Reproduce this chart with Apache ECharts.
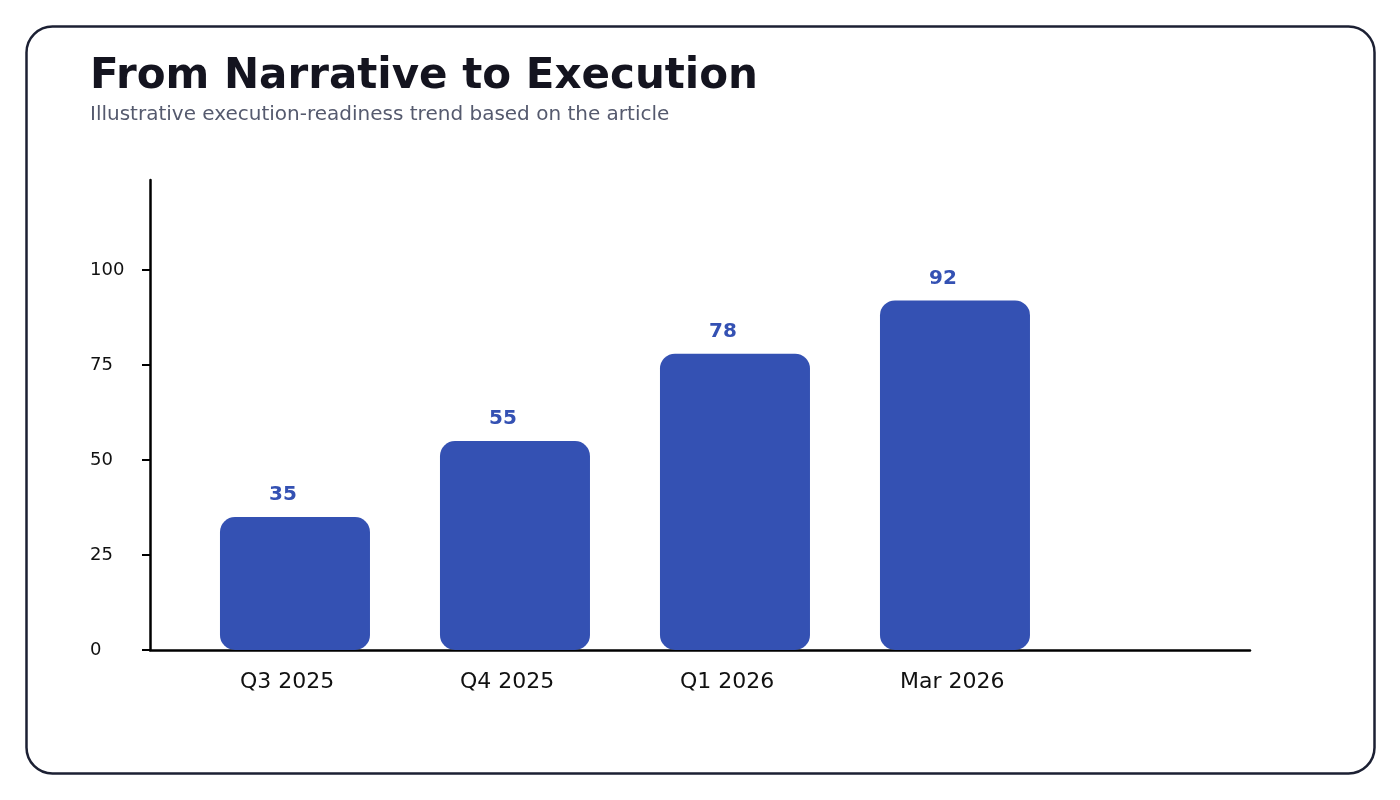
<!DOCTYPE html>
<html>
<head>
<meta charset="utf-8">
<script src="https://cdn.jsdelivr.net/npm/echarts@6/dist/echarts.min.js"></script>
<style>
html,body{margin:0;padding:0;background:#fff;}
#chart{width:1400px;height:800px;}
</style>
</head>
<body>
<div id="chart"></div>
<script>
const categories = ['Q3 2025', 'Q4 2025', 'Q1 2026', 'Mar 2026'];
const values = [35, 55, 78, 92];
const yTicks = [0, 25, 50, 75, 100];
const titleText = 'From Narrative to Execution';
const subtitleText = 'Illustrative execution-readiness trend based on the article';

const barColor = '#3451b3';
const font = 'DejaVu Sans';

const chart = echarts.init(document.getElementById('chart'), null, {renderer: 'canvas'});
const barData = values.map((v, i) => [i, v]);
const labelPositions = categories.map((c, i) => i - 0.25);

chart.setOption({
  backgroundColor: '#ffffff',
  animation: false,
  title: {
    text: titleText,
    subtext: subtitleText,
    left: 85,
    top: 51,
    itemGap: 7,
    textStyle: {fontFamily: font, fontSize: 42, fontWeight: 'bold', color: '#14141f'},
    subtextStyle: {fontFamily: font, fontSize: 20, color: '#555a6e'}
  },
  graphic: [{
    type: 'rect',
    shape: {x: 26.5, y: 26.5, width: 1348, height: 747, r: 26},
    style: {fill: 'none', stroke: '#1c2033', lineWidth: 2.5},
    silent: true,
    z: 10
  }],
  grid: {left: 150, right: 150, top: 180, bottom: 150, containLabel: false, outerBoundsMode: 'none'},
  xAxis: {
    type: 'value',
    min: -0.659,
    max: 4.341,
    axisLine: {show: true, onZero: false, lineStyle: {color: '#000', width: 2.5}},
    axisTick: {show: false},
    splitLine: {show: false},
    axisLabel: {
      customValues: labelPositions,
      formatter: v => categories[Math.round(v + 0.25)] || '',
      align: 'left',
      margin: 21,
      fontFamily: font,
      fontSize: 22,
      color: '#111'
    }
  },
  yAxis: {
    type: 'value',
    min: 0,
    max: 123.7,
    interval: 25,
    axisLine: {show: true, onZero: false, lineStyle: {color: '#000', width: 2.5}},
    axisTick: {show: true, length: 8, customValues: yTicks, lineStyle: {color: '#000', width: 2}},
    splitLine: {show: false},
    axisLabel: {
      customValues: yTicks,
      align: 'left',
      margin: 60,
      fontFamily: font,
      fontSize: 18,
      color: '#111'
    }
  },
  series: [{
    type: 'bar',
    data: barData,
    barWidth: 150,
    itemStyle: {color: barColor, borderRadius: 15},
    label: {
      show: true,
      position: 'top',
      distance: 12,
      offset: [-12, 0],
      fontFamily: font,
      fontSize: 20,
      fontWeight: 'bold',
      color: barColor
    }
  }]
});
</script>
</body>
</html>
